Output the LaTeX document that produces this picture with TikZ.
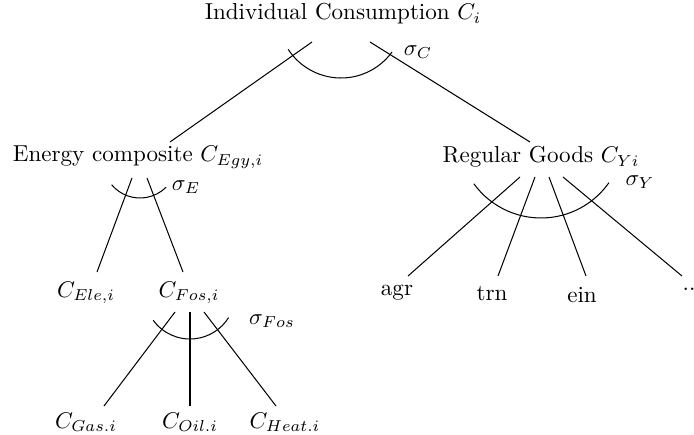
\documentclass[tikz,border=0pt]{standalone}
\begin{document}
\begin{tikzpicture}[x=0.44pt,y=0.44pt,
  lbl/.style={inner sep=0pt,font=\fontsize{10.15}{12}\selectfont},
  edge/.style={draw=black,line width=0.45pt},
  elast/.style={draw=black,line width=0.45pt}]
\useasboundingbox (0,0) rectangle (694,434);
% nodes
\node[lbl] (top) at (343,420) {Individual Consumption $C_i$};
\node[lbl] (egy) at (138,277) {Energy composite $C_{Egy,i}$};
\node[lbl] (reg) at (541,277) {Regular Goods $C_{Yi}$};
\node[lbl] (ele) at (86,141) {$C_{Ele,i}$};
\node[lbl] (fos) at (189,141) {$C_{Fos,i}$};
\node[lbl] (agr) at (397,141) {agr};
\node[lbl] (trn) at (492,140) {trn};
\node[lbl] (ein) at (582,139) {ein};
\node[lbl] (dots) at (689,145) {..};
\node[lbl] (gas) at (86,12) {$C_{Gas.i}$};
\node[lbl] (oil) at (190,12) {$C_{Oil.i}$};
\node[lbl] (heat) at (285,12) {$C_{Heat.i}$};
% elasticity labels
\node[lbl] (sC) at (418,382) {$\sigma_C$};
\node[lbl] (sE) at (186,247) {$\sigma_E$};
\node[lbl] (sF) at (272,113) {$\sigma_{Fos}$};
\node[lbl] (sY) at (640,252) {$\sigma_Y$};
% connector end points
\coordinate (t1) at (312,392); \coordinate (t2) at (370,392);
\coordinate (e-in) at (170,292); \coordinate (r-in) at (530,292);
\coordinate (e1) at (132,256); \coordinate (e2) at (147,256);
\coordinate (ele-in) at (97,162); \coordinate (fos-in) at (183,162);
\coordinate (f1) at (175,122); \coordinate (f2) at (190,122); \coordinate (f3) at (204,122);
\coordinate (gas-in) at (104,28); \coordinate (oil-in) at (190,28); \coordinate (heat-in) at (276,28);
\coordinate (r1) at (520,257); \coordinate (r2) at (535,257); \coordinate (r3) at (549,257); \coordinate (r4) at (563,257);
\coordinate (agr-in) at (408,158); \coordinate (trn-in) at (498,158); \coordinate (ein-in) at (586,158); \coordinate (dots-in) at (682,158);
% connectors
\draw[edge] (t1) -- (e-in);
\draw[edge] (t2) -- (r-in);
\draw[edge] (e1) -- (ele-in);
\draw[edge] (e2) -- (fos-in);
\draw[edge] (f1) -- (gas-in);
\draw[edge] (f2) -- (oil-in);
\draw[edge] (f3) -- (heat-in);
\draw[edge] (r1) -- (agr-in);
\draw[edge] (r2) -- (trn-in);
\draw[edge] (r3) -- (ein-in);
\draw[edge] (r4) -- (dots-in);
% elasticity arcs
\coordinate (cC) at (341,419);
\coordinate (cE) at (140,273);
\coordinate (cF) at (190,140.5);
\coordinate (cY) at (541,299);
\draw[elast] ([shift={(213:63)}]cC) arc (213:324:63);
\draw[elast] ([shift={(220:37)}]cE) arc (220:315:37);
\draw[elast] ([shift={(216:45.5)}]cF) arc (216:328:45.5);
\draw[elast] ([shift={(216:83)}]cY) arc (216:325:83);
\end{tikzpicture}
\end{document}
